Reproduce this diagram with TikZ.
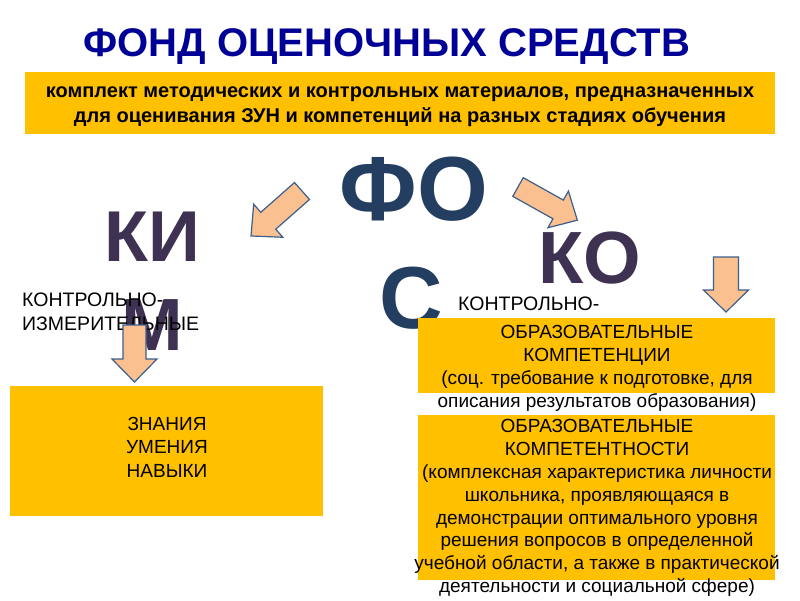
\documentclass[tikz,border=0pt]{standalone}
\usepackage{fontspec}
\setmainfont{Liberation Sans}
\usepackage{xcolor}
\usepackage{tikz}

\definecolor{fosgold}{RGB}{255,192,0}
\definecolor{fostitle}{RGB}{0,0,150}
\definecolor{fosnavy}{RGB}{35,62,96}
\definecolor{fospurple}{RGB}{63,49,81}
\definecolor{fospeach}{RGB}{250,192,144}
\definecolor{fosedge}{RGB}{60,95,140}

% block arrow: x, y, angle, length, shaft, head, head length
\newcommand{\blockarrow}[7]{%
\draw [arrowshape, shift={(#1,#2)}, rotate=#3] (0,-#5) -- ({#4-#7},-#5) -- ({#4-#7},-#6) -- (#4,0)
  -- ({#4-#7},#6) -- ({#4-#7},#5) -- (0,#5) -- cycle;}

\begin{document}
\begin{tikzpicture}[x=1pt,y=-1pt,
  goldbox/.style={fill=fosgold, draw=none, inner sep=0pt},
  plaintext/.style={font=\fontsize{19}{23}\selectfont, align=center, inner sep=0pt},
  bigfos/.style={font=\fontsize{91}{105}\selectfont\bfseries, text=fosnavy, anchor=base, inner sep=0pt},
  bigsub/.style={font=\fontsize{72}{89}\selectfont\bfseries, text=fospurple, anchor=base, inner sep=0pt},
  arrowshape/.style={fill=fospeach, draw=fosedge, line width=1.2pt, line join=miter}]
\useasboundingbox (0,0) rectangle (800,600);
\fill [white] (0,0) rectangle (800,600);
\tikzstyle{every node}+=[inner sep=0pt]
% title and definition
\node [font=\fontsize{40}{48}\selectfont\bfseries, text=fostitle, anchor=base] (title) at (387,56) {ФОНД ОЦЕНОЧНЫХ СРЕДСТВ};
\node [goldbox, minimum width=750, minimum height=62] (defbox) at (400,103) {};
\node [font=\fontsize{20}{25}\selectfont\bfseries, align=center] (deftext) at (400,107)
  {комплект методических и контрольных материалов, предназначенных\\
   для оценивания ЗУН и компетенций на разных стадиях обучения};
% big letters
\node [bigfos] (fo) at (414,220) {ФО};
\node [bigfos, font=\fontsize{88}{105}\selectfont\bfseries] (s) at (411,328) {С};
\node [bigsub] (ki) at (152,261) {КИ};
\node [bigsub, font=\fontsize{74}{89}\selectfont\bfseries] (m) at (152,350) {М};
\node [bigsub, font=\fontsize{74}{89}\selectfont\bfseries] (ko) at (590,283) {КО};
% small captions
\node [plaintext, font=\fontsize{19.5}{23}\selectfont, anchor=base west] (kimcap) at (22,306) {КОНТРОЛЬНО-};
\node [plaintext, font=\fontsize{19.5}{23}\selectfont, anchor=base west] (kimcap2) at (22,330) {ИЗМЕРИТЕЛЬНЫЕ};
\node [plaintext, font=\fontsize{19.5}{23}\selectfont, anchor=base west] (koscap) at (458,310) {КОНТРОЛЬНО-};
% boxes
\node [goldbox, minimum width=313, minimum height=130] (zunbox) at (166.5,451) {};
\node [plaintext, font=\fontsize{19}{23.5}\selectfont] (zun) at (167,447) {ЗНАНИЯ\\УМЕНИЯ\\НАВЫКИ};
\node [goldbox, minimum width=357, minimum height=75] (compbox) at (596.5,355.5) {};
\node [plaintext] (comp) at (597,368) {ОБРАЗОВАТЕЛЬНЫЕ\\КОМПЕТЕНЦИИ\\(соц. требование к подготовке, для\\описания результатов образования)};
\node [goldbox, minimum width=357, minimum height=165] (ctbox) at (596.5,497.5) {};
\node [plaintext, font=\fontsize{19}{22.8}\selectfont] (ct) at (597,508) {ОБРАЗОВАТЕЛЬНЫЕ\\КОМПЕТЕНТНОСТИ\\(комплексная характеристика личности\\школьника, проявляющаяся в\\демонстрации оптимального уровня\\решения вопросов в определенной\\учебной области, а также в практической\\деятельности и социальной сфере)};
% arrows
\blockarrow{302}{191}{221.4}{68}{11.3}{22}{23}
\blockarrow{518}{187}{-29.2}{68}{10.7}{21}{22}
\blockarrow{134.5}{325}{-90}{57}{11.5}{22.5}{23}
\blockarrow{726}{257}{-90}{55}{12.5}{22.5}{22}
\end{tikzpicture}
\end{document}
